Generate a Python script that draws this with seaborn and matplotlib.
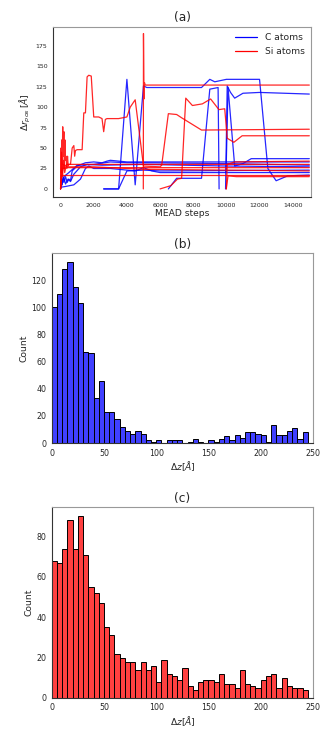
import matplotlib
matplotlib.use("Agg")
import matplotlib.pyplot as plt
import numpy as np
import pandas as pd
import seaborn as sns
from matplotlib.lines import Line2D

# ---- data ----
# panel (a): displacement traces, one list of steps / values per atom
c_atom_steps = [
    [0, 50, 100, 150, 200, 300, 400, 500, 600, 700, 1000, 1500, 2000, 2500, 2800, 3000, 3500, 4000, 15000],
    [0, 300, 800, 1200, 1500, 1700, 2000, 3000, 4000, 4500, 5000, 5500, 6000, 8500, 15000],
    [0, 200, 500, 1000, 2000, 3000, 4000, 5000, 10000, 15000],
    [2600, 3500, 4000, 4500, 5000, 5200, 8500, 9000, 9300, 10000, 12000, 12500, 13000, 13700, 15000],
    [2600, 3500, 4000, 5000, 6000, 15000],
    [6500, 7000, 8500, 9000, 9500, 9560],
    [9950, 10050, 10250, 10500, 11000, 12000, 15000],
    [9980, 10100, 10500, 11000, 11500, 15000],
    [0, 100, 200, 300, 450, 600, 800, 1200, 1600, 2500, 5000, 10000, 15000],
]
c_atom_dr = [
    [0, 12, 5, 14, 8, 15, 8, 12, 10, 22, 28, 32, 33, 32, 34, 35, 34, 33, 33],
    [2, 3, 5, 12, 25, 28, 25, 25, 23, 22, 26, 22, 20, 20, 20],
    [5, 15, 20, 29, 30, 33, 32, 32, 31, 29],
    [0, 0, 134, 5, 126, 124, 124, 134, 131, 134, 134, 25, 10, 16, 17],
    [0, 0, 22, 23, 22, 23],
    [0, 13, 13, 122, 124, 0],
    [0, 126, 118, 111, 117, 118, 116],
    [20, 124, 28, 31, 37, 37],
    [0, 8, 14, 6, 12, 9, 18, 27, 30, 29, 30, 28, 27],
]

si_atom_steps = [
    [0, 20, 50, 80, 100, 130, 160, 200, 230, 260, 300, 330, 380, 420, 460, 500, 600, 700, 800,
     850, 900, 1000, 1300, 1400, 1500, 1600, 1700, 1850, 2000, 2300, 2500, 2600, 2700, 2800,
     3500, 4000, 4200, 4500, 5000, 6000, 6100, 6500, 7000, 7300, 8500, 15000],
    [4990, 5000, 5030, 5060, 5100, 5300, 15000],
    [6000, 6650, 7050, 7300, 7550, 7950, 8550, 9050, 9550, 9900, 10050, 10450, 10950, 15000],
    [10000, 10050, 10200, 10500, 15000],
    [0, 15000],
    [0, 100, 400, 15000],
    [0, 150, 400, 2000, 5000, 10000, 15000],
    [0, 60, 120, 180, 250, 350, 15000],
    [9990, 10100, 10600, 15000],
]
si_atom_dr = [
    [0, 50, 20, 60, 30, 76, 40, 70, 25, 60, 35, 40, 25, 40, 28, 30, 30, 50, 53,
     40, 47, 48, 48, 93, 93, 137, 139, 138, 88, 88, 86, 70, 85, 86,
     86, 88, 100, 109, 28, 27, 29, 92, 91, 87, 72, 73],
    [0, 190, 110, 130, 127, 127, 127],
    [0, 4, 12, 13, 111, 102, 104, 110, 97, 98, 62, 57, 65, 65],
    [0, 30, 31, 33, 34],
    [17, 17],
    [0, 25, 26, 26],
    [0, 30, 27, 27, 24, 23, 22],
    [0, 45, 15, 35, 20, 30, 30],
    [0, 16, 15, 15],
]

# panels (b) and (c): histogram counts, 5 A bins from 0 to 245
bin_lefts = list(range(0, 245, 5))
counts_c = [100, 110, 128, 133, 115, 103, 67, 66, 33, 46,
            23, 23, 18, 12, 9, 7, 9, 7, 2, 1,
            2, 0, 2, 2, 2, 0, 1, 3, 1, 0,
            2, 1, 3, 5, 2, 6, 4, 8, 8, 7,
            6, 1, 13, 6, 6, 9, 11, 3, 8]
counts_si = [68, 67, 74, 88, 74, 90, 71, 55, 52, 47,
             35, 31, 22, 20, 18, 18, 14, 18, 14, 16,
             8, 19, 12, 11, 9, 15, 6, 4, 8, 9,
             9, 8, 12, 7, 7, 5, 14, 7, 6, 5,
             9, 11, 12, 5, 10, 6, 5, 5, 4]

# build long table for seaborn
rows = []
for i, (s, v) in enumerate(zip(c_atom_steps, c_atom_dr)):
    for a, b in zip(s, v):
        rows.append(("C%d" % i, "C atoms", a, b))
for i, (s, v) in enumerate(zip(si_atom_steps, si_atom_dr)):
    for a, b in zip(s, v):
        rows.append(("Si%d" % i, "Si atoms", a, b))
df = pd.DataFrame(rows, columns=["atom", "species", "step", "dr"])

sns.set_style("white")
plt.rcParams['font.family'] = ['DejaVu Sans']

fig = plt.figure(figsize=(3.34, 7.30), dpi=100)
ax1 = fig.add_axes([0.159, 0.730, 0.772, 0.233])
ax2 = fig.add_axes([0.155, 0.393, 0.782, 0.260])
ax3 = fig.add_axes([0.155, 0.044, 0.782, 0.261])

# (a)
sns.lineplot(data=df, x="step", y="dr", hue="species", units="atom", estimator=None,
             palette={"C atoms": "blue", "Si atoms": "red"}, sort=False,
             lw=0.9, alpha=0.85, ax=ax1, legend=False)
ax1.set_xlim(-450, 15100)
ax1.set_ylim(-10, 198)
ax1.set_xticks(range(0, 15000, 2000))
ax1.set_yticks(range(0, 176, 25))
ax1.set_xlabel("MEAD steps", fontsize=6.6, labelpad=1)
ax1.set_ylabel(r"$\Delta r_{pos}\,[\AA]$", fontsize=6.6, labelpad=2)
ax1.set_title("(a)", fontsize=8.8, pad=4)
ax1.tick_params(labelsize=4.5, length=2.5, width=0.6, pad=1.5)
handles = [Line2D([], [], color="blue", lw=0.9), Line2D([], [], color="red", lw=0.9)]
ax1.legend(handles, ["C atoms", "Si atoms"], loc="upper right", frameon=False,
           fontsize=6.6, handlelength=2.4, borderaxespad=0.3)

# (b) and (c)
centers = [b + 2.5 for b in bin_lefts]
edges = list(range(0, 250, 5))
for ax, counts, col, title, yt in [(ax2, counts_c, "blue", "(b)", range(0, 121, 20)),
                                    (ax3, counts_si, "red", "(c)", range(0, 81, 20))]:
    sns.histplot(x=centers, weights=counts, bins=edges, color=col, alpha=0.75,
                 edgecolor="black", linewidth=0.7, ax=ax)
    ax.set_xlim(0, 250)
    ax.set_xticks(range(0, 251, 50))
    ax.set_yticks(list(yt))
    ax.set_xlabel(r"$\Delta z[\AA]$", fontsize=6.6, labelpad=1)
    ax.set_ylabel("Count", fontsize=6.6, labelpad=2)
    ax.set_title(title, fontsize=8.8, pad=4)
    ax.tick_params(labelsize=5.7, length=2.5, width=0.6, pad=1.5)

for ax in (ax1, ax2, ax3):
    for side in ("left", "bottom"):
        ax.spines[side].set_color("#333333")
    for side in ("top", "right"):
        ax.spines[side].set_color("#999999")
    for sp in ax.spines.values():
        sp.set_linewidth(0.8)
        sp.set_visible(True)

fig.savefig("out.png", dpi=100)
